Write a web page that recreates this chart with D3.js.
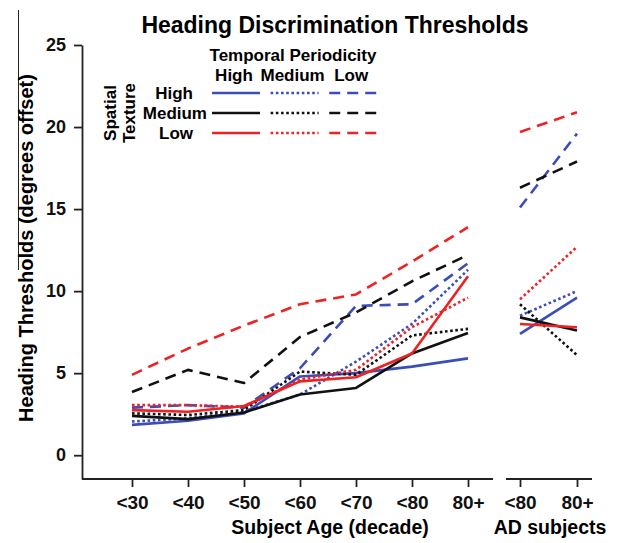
<!DOCTYPE html>
<html>
<head>
<meta charset="utf-8">
<script src="https://cdn.jsdelivr.net/npm/d3@7"></script>
<style>
  body { margin: 0; background: #fff; }
  svg { display: block; font-family: "Liberation Sans", Arial, sans-serif; font-weight: bold; }
</style>
</head>
<body>
<svg id="chart" width="622" height="543"></svg>
<script>
'use strict'

// categories
const ageGroups = ['<30', '<40', '<50', '<60', '<70', '<80', '80+']
const adGroups = ['<80', '80+']
const spatialLevels = ['High', 'Medium', 'Low']
const temporalLevels = ['High', 'Medium', 'Low']
const yTicks = [0, 5, 10, 15, 20, 25]

// thresholds by age decade (spatial texture / temporal periodicity)
const highHighAge = [1.85, 2.1, 2.55, 4.8, 5.0, 5.4, 5.9]
const highMediumAge = [2.05, 2.25, 2.65, 3.7, 5.7, 8.0, 11.3]
const highLowAge = [2.9, 3.05, 2.9, 5.3, 9.1, 9.2, 11.7]
const mediumHighAge = [2.4, 2.2, 2.6, 3.7, 4.1, 6.2, 7.45]
const mediumMediumAge = [2.55, 2.45, 2.75, 5.1, 4.9, 7.3, 7.7]
const mediumLowAge = [3.85, 5.2, 4.4, 7.2, 8.7, 10.6, 12.2]
const lowHighAge = [2.75, 2.65, 3.0, 4.5, 4.75, 6.2, 10.9]
const lowMediumAge = [3.05, 3.05, 2.95, 4.6, 5.2, 7.8, 9.6]
const lowLowAge = [4.9, 6.5, 7.9, 9.2, 9.8, 11.8, 13.9]

// thresholds for AD subjects
const highHighAD = [7.4, 9.6]
const highMediumAD = [8.5, 10.0]
const highLowAD = [15.1, 19.6]
const mediumHighAD = [8.4, 7.6]
const mediumMediumAD = [9.2, 6.1]
const mediumLowAD = [16.3, 17.9]
const lowHighAD = [8.0, 7.8]
const lowMediumAD = [9.5, 12.7]
const lowLowAD = [19.7, 20.9]

const ageValues = [
  [highHighAge, highMediumAge, highLowAge],
  [mediumHighAge, mediumMediumAge, mediumLowAge],
  [lowHighAge, lowMediumAge, lowLowAge]
]
const adValues = [
  [highHighAD, highMediumAD, highLowAD],
  [mediumHighAD, mediumMediumAD, mediumLowAD],
  [lowHighAD, lowMediumAD, lowLowAD]
]

const colours = { High: '#3a4db9', Medium: '#111111', Low: '#ee2222' }
const dashes = { High: null, Medium: '2.6,2.6', Low: '11,7' }

const svg = d3.select('#chart')
const axisY = 479

const y = d3.scaleLinear().domain([-1.45, 25]).range([axisY, 45])
const xAge = d3.scalePoint().domain(ageGroups).range([132, 468])
const xAD = d3.scalePoint().domain(adGroups).range([520, 577])

// stray frame line on the left edge of the scan
svg.append('line')
  .attr('x1', 18.5).attr('x2', 18.5).attr('y1', 10).attr('y2', 270)
  .attr('stroke', '#222').attr('stroke-width', 1)

svg.append('text')
  .attr('x', 335).attr('y', 33)
  .attr('text-anchor', 'middle')
  .style('font-size', '23px')
  .text('Heading Discrimination Thresholds')

// y axis
const yAxis = svg.append('g')
  .attr('transform', 'translate(82,0)')
  .call(d3.axisLeft(y).tickValues(yTicks).tickSize(8).tickSizeOuter(0).tickPadding(8))
yAxis.selectAll('text').style('font-size', '18px').style('font-family', 'inherit').attr('fill', '#111')
yAxis.selectAll('line, path').attr('stroke', '#222').attr('stroke-width', 1.8)

svg.append('text')
  .attr('transform', 'translate(33,248) rotate(-90)')
  .attr('text-anchor', 'middle')
  .style('font-size', '20px')
  .text('Heading Thresholds (degrees offset)')

// x axes: age decades and AD subjects
function drawXAxis (scale, x0, x1) {
  const g = svg.append('g')
    .attr('transform', `translate(0,${axisY})`)
    .call(d3.axisBottom(scale).tickSize(8).tickSizeOuter(0).tickPadding(9))
  g.select('.domain').remove()
  g.append('line')
    .attr('x1', x0).attr('x2', x1)
  g.selectAll('line').attr('stroke', '#222').attr('stroke-width', 1.8)
  g.selectAll('text').style('font-size', '19px').style('font-family', 'inherit').attr('fill', '#111')
}
drawXAxis(xAge, 82, 493)
drawXAxis(xAD, 506, 592)

svg.append('text')
  .attr('x', 330).attr('y', 534)
  .attr('text-anchor', 'middle')
  .style('font-size', '19.5px')
  .text('Subject Age (decade)')

svg.append('text')
  .attr('x', 550).attr('y', 534)
  .attr('text-anchor', 'middle')
  .style('font-size', '19.5px')
  .text('AD subjects')

// data lines
const ageLine = d3.line().x((d, i) => xAge(ageGroups[i])).y(d => y(d))
const adLine = d3.line().x((d, i) => xAD(adGroups[i])).y(d => y(d))

const series = []
spatialLevels.forEach((spatial, si) => {
  temporalLevels.forEach((temporal, ti) => {
    series.push({ spatial, temporal, age: ageValues[si][ti], ad: adValues[si][ti] })
  })
})

const lines = svg.append('g').attr('fill', 'none')
series.forEach(s => {
  [[ageLine, s.age], [adLine, s.ad]].forEach(([gen, values]) => {
    lines.append('path')
      .attr('d', gen(values))
      .attr('stroke', colours[s.spatial])
      .attr('stroke-width', 2.6)
      .attr('stroke-dasharray', dashes[s.temporal])
      .attr('stroke-linejoin', 'round')
  })
})

// legend
const legend = svg.append('g').style('font-size', '17px')
legend.append('text')
  .attr('x', 293).attr('y', 61)
  .attr('text-anchor', 'middle')
  .text('Temporal Periodicity')

const legendX = d3.scaleBand().domain(temporalLevels).range([212, 382]).paddingInner(0.1)
const legendY = d3.scalePoint().domain(spatialLevels).range([93, 133])

legend.selectAll('text.col')
  .data(temporalLevels)
  .enter().append('text')
  .attr('class', 'col')
  .attr('x', d => legendX(d) + 22)
  .attr('y', 81)
  .attr('text-anchor', 'middle')
  .text(d => d)

legend.selectAll('text.row')
  .data(spatialLevels)
  .enter().append('text')
  .attr('class', 'row')
  .attr('x', d => d === 'Medium' ? 207 : 193)
  .attr('y', d => legendY(d) + 6)
  .attr('text-anchor', 'end')
  .text(d => d)

legend.append('text')
  .attr('transform', 'translate(116,113) rotate(-90)')
  .attr('text-anchor', 'middle')
  .text('Spatial')
legend.append('text')
  .attr('transform', 'translate(135,113) rotate(-90)')
  .attr('text-anchor', 'middle')
  .text('Texture')

series.forEach(s => {
  legend.append('line')
    .attr('x1', legendX(s.temporal))
    .attr('x2', legendX(s.temporal) + 48)
    .attr('y1', legendY(s.spatial))
    .attr('y2', legendY(s.spatial))
    .attr('stroke', colours[s.spatial])
    .attr('stroke-width', 2.6)
    .attr('stroke-dasharray', dashes[s.temporal])
})
</script>
</body>
</html>
